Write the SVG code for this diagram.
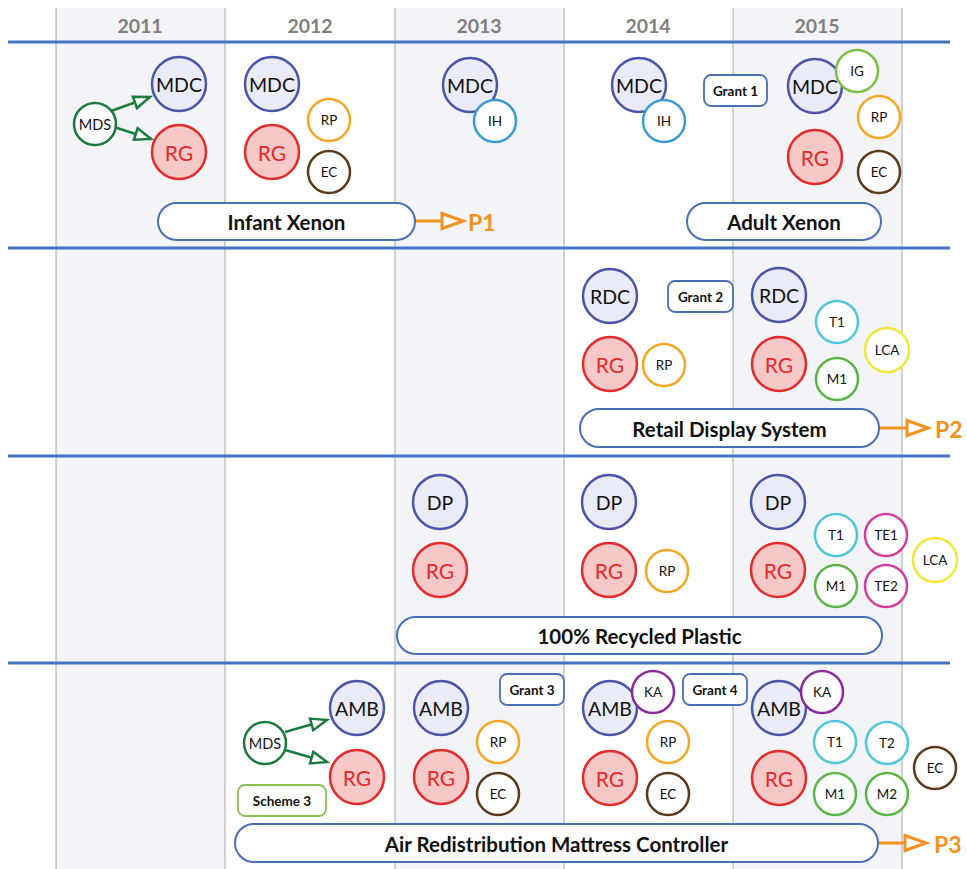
<svg xmlns="http://www.w3.org/2000/svg" width="967" height="869" viewBox="0 0 967 869">
<style>
text{font-family:Lato,"Liberation Sans",sans-serif;text-anchor:middle;dominant-baseline:central}
.yr{font-size:19.5px;font-weight:bold;fill:#7f7f7f}
.big{fill:#e9ebf6;stroke:#4a55a8;stroke-width:2.5}
.rg{fill:#f6c8c8;stroke:#e32b2b;stroke-width:2.5}
.sm{fill:#fff;stroke-width:2.5}
.bt{font-size:19.5px;fill:#111}
.rt{font-size:21px;fill:#e32b2b}
.st{font-size:13.5px;fill:#111}
.box{fill:#fff;stroke:#4a6fb5;stroke-width:1.8}
.bx{font-size:13.5px;font-weight:bold;fill:#111}
.pill{fill:#fff;stroke:#4a6fb5;stroke-width:2}
.pt{font-size:20.5px;font-weight:bold;fill:#111}
.pp{font-size:23px;font-weight:bold;fill:#f39221;text-anchor:start}
.oa{stroke:#f39221;stroke-width:3;fill:none}
.ga{stroke:#1c7a3e;stroke-width:2.5;fill:none}
.vl{stroke:#a6a6a6;stroke-width:1}
.hl{stroke:#4472c4;stroke-width:3}
</style>
<defs>
<marker id="oh" markerUnits="userSpaceOnUse" markerWidth="28" markerHeight="22" refX="24" refY="11" orient="auto">
<path d="M3,3.5 L24,11 L3,18.5 Z" fill="#fff" stroke="#f39221" stroke-width="3"/>
</marker>
<marker id="gh" markerUnits="userSpaceOnUse" markerWidth="22" markerHeight="18" refX="19" refY="9" orient="auto">
<path d="M3,3 L19,9 L3,15 Z" fill="#fff" stroke="#1c7a3e" stroke-width="2.5"/>
</marker>
</defs>
<g id="background">
<rect x="0" y="0" width="967" height="869" fill="#fff"/>
<rect x="56" y="8" width="169" height="861" fill="#f3f4f8"/>
<rect x="395" y="8" width="169" height="861" fill="#f3f4f8"/>
<rect x="733" y="8" width="169" height="861" fill="#f3f4f8"/>
<line class="vl" x1="56" y1="8" x2="56" y2="869"/>
<line class="vl" x1="225" y1="8" x2="225" y2="869"/>
<line class="vl" x1="395" y1="8" x2="395" y2="869"/>
<line class="vl" x1="564" y1="8" x2="564" y2="869"/>
<line class="vl" x1="733" y1="8" x2="733" y2="869"/>
<line class="vl" x1="902" y1="8" x2="902" y2="869"/>
<text class="yr" x="140" y="25">2011</text>
<text class="yr" x="310" y="25">2012</text>
<text class="yr" x="479" y="25">2013</text>
<text class="yr" x="648" y="25">2014</text>
<text class="yr" x="817" y="25">2015</text>
<line class="hl" x1="8" y1="42" x2="950" y2="42"/>
<line class="hl" x1="8" y1="248" x2="950" y2="248"/>
<line class="hl" x1="8" y1="456" x2="950" y2="456"/>
<line class="hl" x1="8" y1="663" x2="950" y2="663"/>
</g>
<g id="connectors">
<line class="ga" x1="111" y1="111" x2="150" y2="97" marker-end="url(#gh)"/>
<line class="ga" x1="111" y1="126" x2="151" y2="139" marker-end="url(#gh)"/>
<line class="ga" x1="285" y1="732" x2="327" y2="720" marker-end="url(#gh)"/>
<line class="ga" x1="285" y1="750" x2="327" y2="762" marker-end="url(#gh)"/>
<line class="oa" x1="415" y1="221" x2="463" y2="221" marker-end="url(#oh)"/>
<line class="oa" x1="879" y1="428" x2="928" y2="428" marker-end="url(#oh)"/>
<line class="oa" x1="878" y1="843" x2="926" y2="843" marker-end="url(#oh)"/>
</g>
<!-- Row 1 -->
<g id="r1-mds"><circle class="sm" cx="95" cy="124" r="21" stroke="#1c7a3e"/><text class="st" style="font-size:14.5px" x="95" y="124">MDS</text></g>
<g id="r1-mdc-2011"><circle class="big" cx="179" cy="84" r="27"/><text class="bt" x="179" y="84">MDC</text></g>
<g id="r1-rg-2011"><circle class="rg" cx="179" cy="152" r="27"/><text class="rt" x="179" y="152">RG</text></g>
<g id="r1-mdc-2012"><circle class="big" cx="272" cy="84" r="27"/><text class="bt" x="272" y="84">MDC</text></g>
<g id="r1-rg-2012"><circle class="rg" cx="272" cy="152" r="27"/><text class="rt" x="272" y="152">RG</text></g>
<g id="r1-rp-2012"><circle class="sm" cx="329" cy="120" r="21" stroke="#f5a623"/><text class="st" x="329" y="120">RP</text></g>
<g id="r1-ec-2012"><circle class="sm" cx="329" cy="172" r="21" stroke="#5a3a1a"/><text class="st" x="329" y="172">EC</text></g>
<g id="r1-mdc-2013"><circle class="big" cx="470" cy="85" r="27"/><text class="bt" x="470" y="85">MDC</text></g>
<g id="r1-ih-2013"><circle class="sm" cx="495" cy="121" r="21" stroke="#3d9ad1"/><text class="st" x="495" y="121">IH</text></g>
<g id="r1-mdc-2014"><circle class="big" cx="639" cy="85" r="27"/><text class="bt" x="639" y="85">MDC</text></g>
<g id="r1-ih-2014"><circle class="sm" cx="664" cy="121" r="21" stroke="#3d9ad1"/><text class="st" x="664" y="121">IH</text></g>
<g id="r1-grant1"><rect class="box" x="704" y="75" width="63" height="31" rx="7"/><text class="bx" x="735.5" y="90.5">Grant 1</text></g>
<g id="r1-mdc-2015"><circle class="big" cx="815" cy="86" r="27"/><text class="bt" x="815" y="86">MDC</text></g>
<g id="r1-ig-2015"><circle class="sm" cx="857" cy="71" r="21" stroke="#7ac143"/><text class="st" x="857" y="71">IG</text></g>
<g id="r1-rp-2015"><circle class="sm" cx="879" cy="117" r="21" stroke="#f5a623"/><text class="st" x="879" y="117">RP</text></g>
<g id="r1-rg-2015"><circle class="rg" cx="815" cy="157" r="27"/><text class="rt" x="815" y="157">RG</text></g>
<g id="r1-ec-2015"><circle class="sm" cx="879" cy="172" r="21" stroke="#5a3a1a"/><text class="st" x="879" y="172">EC</text></g>
<g id="r1-infant"><rect class="pill" x="158" y="203" width="257" height="37" rx="18.5"/><text class="pt" x="286.5" y="221.5">Infant Xenon</text></g>
<g id="r1-adult"><rect class="pill" x="687" y="203" width="194" height="37" rx="18.5"/><text class="pt" x="784" y="221.5">Adult Xenon</text></g>
<g id="p1"><text class="pp" x="468" y="222">P1</text></g>
<!-- Row 2 -->
<g id="r2-rdc-2014"><circle class="big" cx="610" cy="296" r="27"/><text class="bt" x="610" y="296">RDC</text></g>
<g id="r2-grant2"><rect class="box" x="668" y="281" width="65" height="31" rx="7"/><text class="bx" x="700.5" y="296.5">Grant 2</text></g>
<g id="r2-rg-2014"><circle class="rg" cx="610" cy="364" r="27"/><text class="rt" x="610" y="364">RG</text></g>
<g id="r2-rp-2014"><circle class="sm" cx="664" cy="365" r="21" stroke="#f5a623"/><text class="st" x="664" y="365">RP</text></g>
<g id="r2-rdc-2015"><circle class="big" cx="779" cy="295" r="27"/><text class="bt" x="779" y="295">RDC</text></g>
<g id="r2-t1"><circle class="sm" cx="837" cy="322" r="21" stroke="#4fc6d9"/><text class="st" x="837" y="322">T1</text></g>
<g id="r2-lca"><circle class="sm" cx="887" cy="350" r="22" stroke="#f0e83a"/><text class="st" x="887" y="350">LCA</text></g>
<g id="r2-rg-2015"><circle class="rg" cx="779" cy="364" r="27"/><text class="rt" x="779" y="364">RG</text></g>
<g id="r2-m1"><circle class="sm" cx="837" cy="379" r="21" stroke="#5ab547"/><text class="st" x="837" y="379">M1</text></g>
<g id="r2-retail"><rect class="pill" x="580" y="409" width="299" height="38" rx="19"/><text class="pt" x="729.5" y="428.5">Retail Display System</text></g>
<g id="p2"><text class="pp" x="935" y="429">P2</text></g>
<!-- Row 3 -->
<g id="r3-dp-2013"><circle class="big" cx="440" cy="502" r="27"/><text class="bt" x="440" y="502">DP</text></g>
<g id="r3-rg-2013"><circle class="rg" cx="440" cy="570" r="27"/><text class="rt" x="440" y="570">RG</text></g>
<g id="r3-dp-2014"><circle class="big" cx="609" cy="502" r="27"/><text class="bt" x="609" y="502">DP</text></g>
<g id="r3-rg-2014"><circle class="rg" cx="609" cy="570" r="27"/><text class="rt" x="609" y="570">RG</text></g>
<g id="r3-rp-2014"><circle class="sm" cx="667" cy="571" r="21" stroke="#f5a623"/><text class="st" x="667" y="571">RP</text></g>
<g id="r3-dp-2015"><circle class="big" cx="778" cy="502" r="27"/><text class="bt" x="778" y="502">DP</text></g>
<g id="r3-rg-2015"><circle class="rg" cx="778" cy="570" r="27"/><text class="rt" x="778" y="570">RG</text></g>
<g id="r3-t1"><circle class="sm" cx="836" cy="535" r="21" stroke="#4fc6d9"/><text class="st" x="836" y="535">T1</text></g>
<g id="r3-m1"><circle class="sm" cx="836" cy="586" r="21" stroke="#5ab547"/><text class="st" x="836" y="586">M1</text></g>
<g id="r3-te1"><circle class="sm" cx="886" cy="535" r="21" stroke="#d63d9a"/><text class="st" x="886" y="535">TE1</text></g>
<g id="r3-te2"><circle class="sm" cx="886" cy="586" r="21" stroke="#d63d9a"/><text class="st" x="886" y="586">TE2</text></g>
<g id="r3-lca"><circle class="sm" cx="935" cy="560" r="22" stroke="#f0e83a"/><text class="st" x="935" y="560">LCA</text></g>
<g id="r3-recycled"><rect class="pill" x="397" y="617" width="485" height="37" rx="18.5"/><text class="pt" x="639.5" y="635.5">100% Recycled Plastic</text></g>
<!-- Row 4 -->
<g id="r4-mds"><circle class="sm" cx="265" cy="743" r="21" stroke="#1c7a3e"/><text class="st" style="font-size:14.5px" x="265" y="743">MDS</text></g>
<g id="r4-amb-2012"><circle class="big" cx="357" cy="708" r="27"/><text class="bt" x="357" y="708">AMB</text></g>
<g id="r4-rg-2012"><circle class="rg" cx="357" cy="777" r="27"/><text class="rt" x="357" y="777">RG</text></g>
<g id="r4-scheme3"><rect class="box" x="238" y="785" width="88" height="31" rx="7" style="stroke:#8cc152"/><text class="bx" x="282" y="800.5">Scheme 3</text></g>
<g id="r4-amb-2013"><circle class="big" cx="441" cy="708" r="27"/><text class="bt" x="441" y="708">AMB</text></g>
<g id="r4-grant3"><rect class="box" x="500" y="674" width="64" height="31" rx="7"/><text class="bx" x="532" y="689.5">Grant 3</text></g>
<g id="r4-rp-2013"><circle class="sm" cx="498" cy="742" r="21" stroke="#f5a623"/><text class="st" x="498" y="742">RP</text></g>
<g id="r4-rg-2013"><circle class="rg" cx="441" cy="777" r="27"/><text class="rt" x="441" y="777">RG</text></g>
<g id="r4-ec-2013"><circle class="sm" cx="498" cy="794" r="21" stroke="#5a3a1a"/><text class="st" x="498" y="794">EC</text></g>
<g id="r4-amb-2014"><circle class="big" cx="610" cy="708" r="27"/><text class="bt" x="610" y="708">AMB</text></g>
<g id="r4-ka-2014"><circle class="sm" cx="653" cy="692" r="21" stroke="#8b2a9b"/><text class="st" x="653" y="692">KA</text></g>
<g id="r4-grant4"><rect class="box" x="683" y="674" width="64" height="31" rx="7"/><text class="bx" x="715" y="689.5">Grant 4</text></g>
<g id="r4-rp-2014"><circle class="sm" cx="668" cy="742" r="21" stroke="#f5a623"/><text class="st" x="668" y="742">RP</text></g>
<g id="r4-rg-2014"><circle class="rg" cx="610" cy="778" r="27"/><text class="rt" x="610" y="778">RG</text></g>
<g id="r4-ec-2014"><circle class="sm" cx="668" cy="794" r="21" stroke="#5a3a1a"/><text class="st" x="668" y="794">EC</text></g>
<g id="r4-amb-2015"><circle class="big" cx="779" cy="708" r="27"/><text class="bt" x="779" y="708">AMB</text></g>
<g id="r4-ka-2015"><circle class="sm" cx="822" cy="692" r="21" stroke="#8b2a9b"/><text class="st" x="822" y="692">KA</text></g>
<g id="r4-t1"><circle class="sm" cx="835" cy="742" r="21" stroke="#4fc6d9"/><text class="st" x="835" y="742">T1</text></g>
<g id="r4-t2"><circle class="sm" cx="887" cy="743" r="21" stroke="#4fc6d9"/><text class="st" x="887" y="743">T2</text></g>
<g id="r4-rg-2015"><circle class="rg" cx="779" cy="778" r="27"/><text class="rt" x="779" y="778">RG</text></g>
<g id="r4-m1"><circle class="sm" cx="835" cy="794" r="21" stroke="#5ab547"/><text class="st" x="835" y="794">M1</text></g>
<g id="r4-m2"><circle class="sm" cx="887" cy="794" r="21" stroke="#5ab547"/><text class="st" x="887" y="794">M2</text></g>
<g id="r4-ec-2015"><circle class="sm" cx="935" cy="768" r="21" stroke="#5a3a1a"/><text class="st" x="935" y="768">EC</text></g>
<g id="r4-armc"><rect class="pill" x="235" y="824" width="643" height="38" rx="19"/><text class="pt" x="556.5" y="843.5">Air Redistribution Mattress Controller</text></g>
<g id="p3"><text class="pp" x="934" y="844">P3</text></g>
</svg>
